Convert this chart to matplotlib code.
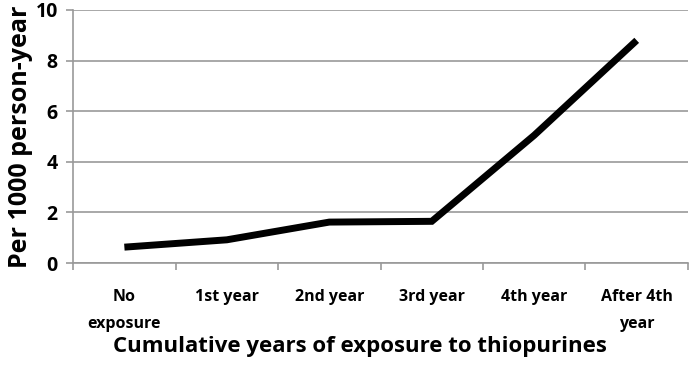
import matplotlib.pyplot as plt

categories = ['No\nexposure', '1st year', '2nd year', '3rd year', '4th year', 'After 4th\nyear']
rates = [0.63, 0.92, 1.62, 1.65, 5.05, 8.8]
yticks = [0, 2, 4, 6, 8, 10]

plt.rcParams['font.family'] = ['Open Sans', 'DejaVu Sans']
plt.rcParams['font.weight'] = 'bold'

fig = plt.figure(figsize=(6.9, 3.69), dpi=100)
ax = fig.add_axes([0.106, 0.287, 0.891, 0.686])

x = list(range(len(categories)))
ax.plot(x, rates, color='black', linewidth=5, solid_capstyle='butt', solid_joinstyle='miter', zorder=3)

ax.set_xlim(-0.5, len(categories) - 0.5)
ax.set_ylim(0, 10)
ax.set_yticks(yticks)
ax.set_yticklabels([str(t) for t in yticks], fontsize=14, fontweight='bold')
ax.yaxis.grid(True, color='#999999', linewidth=1.2)
ax.set_axisbelow(True)

# category labels sit between the boundary ticks
ax.set_xticks([i + 0.5 for i in range(-1, len(categories))])
ax.set_xticklabels([])
ax.set_xticks(x, minor=True)
ax.set_xticklabels(categories, minor=True, fontsize=11.5, fontweight='bold', linespacing=1.9)
ax.tick_params(axis='x', which='minor', length=0, pad=19)
ax.tick_params(axis='x', which='major', length=5, color='#999999', width=1.2)
ax.tick_params(axis='y', length=5, color='#999999', width=1.2, pad=6)

for side in ['top', 'right']:
    ax.spines[side].set_visible(False)
for side in ['left', 'bottom']:
    ax.spines[side].set_color('#999999')
    ax.spines[side].set_linewidth(1.2)

ax.set_ylabel('Per 1000 person-year', fontsize=18, fontweight='bold', labelpad=2)
ax.set_xlabel('Cumulative years of exposure to thiopurines', fontsize=16, fontweight='bold', labelpad=3)
ax.xaxis.label.set_x(0.467)

fig.savefig('out.png', dpi=100)
